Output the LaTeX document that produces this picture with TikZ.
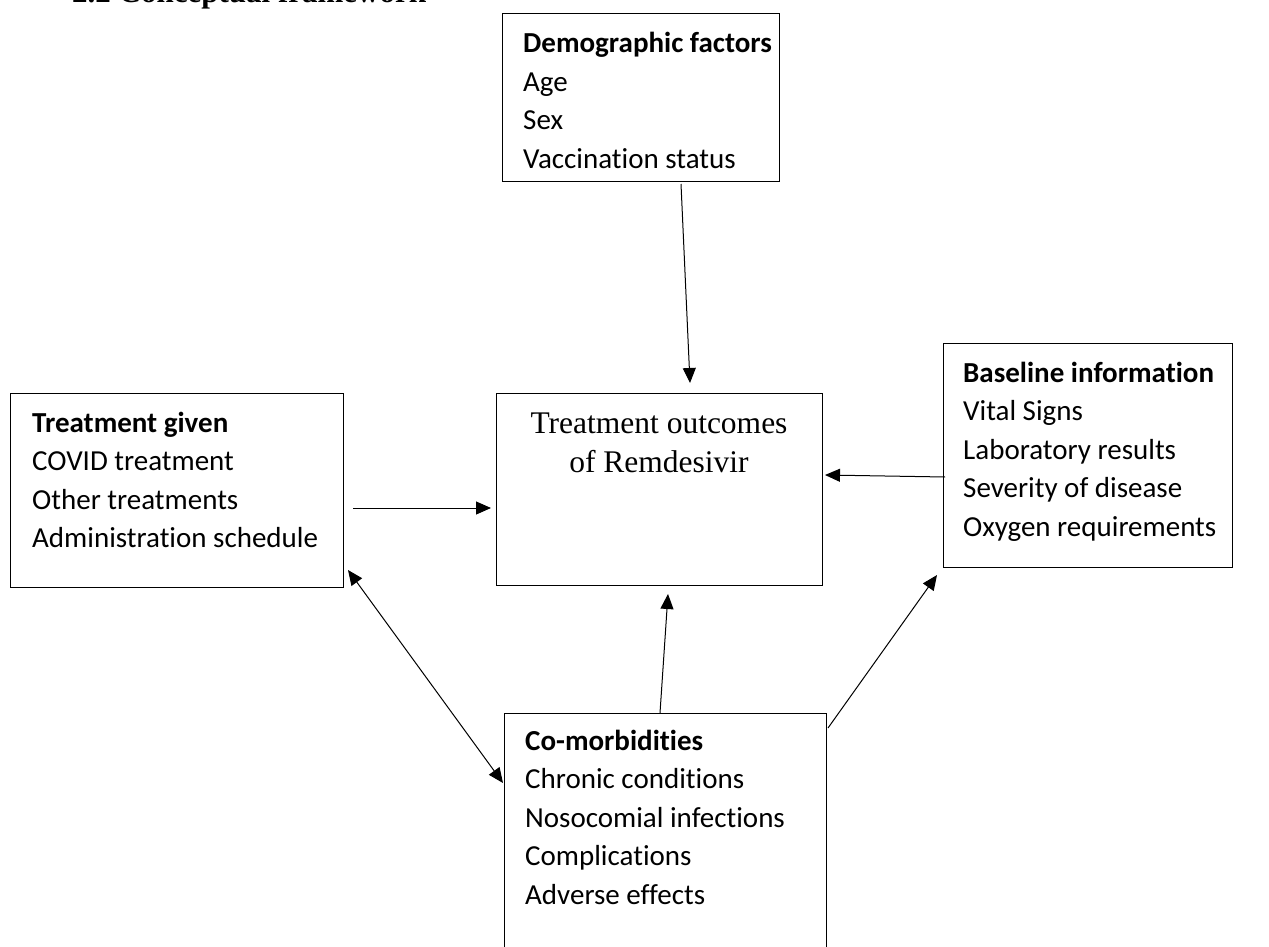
\documentclass[tikz,border=0pt]{standalone}
\usepackage{fontspec}
\setmainfont{Liberation Serif}
\newfontfamily\calfont[Ligatures={NoCommon}]{Carlito}
\usetikzlibrary{arrows.meta}
\begin{document}
\begin{tikzpicture}[x=1pt,y=-1pt,
  box/.style={draw, line width=1.1pt, inner sep=0pt, anchor=north west},
  txt/.style={anchor=base west, inner sep=0pt, font=\calfont\fontsize{29}{38.5}\selectfont},
  arr/.style={line width=1pt, -{Triangle[length=15pt,width=13pt]}},
  darr/.style={line width=1pt, {Triangle[length=15pt,width=13pt]}-{Triangle[length=15pt,width=13pt]}}]
\useasboundingbox (0,0) rectangle (1269,947);
\clip (0,0) rectangle (1269,947);
\fill[white] (0,0) rectangle (1269,947);

% title (cut at the top edge)
\node[anchor=base west, inner sep=0pt, font=\fontsize{31}{36}\selectfont\bfseries] (title) at (72,3) {2.2 Conceptual framework};

% boxes
\node[box, minimum width=277pt, minimum height=168pt] (demo) at (502,13) {};
\node[box, minimum width=333pt, minimum height=194pt] (treat) at (10,393) {};
\node[box, minimum width=326pt, minimum height=192pt] (outc) at (496,393) {};
\node[box, minimum width=289pt, minimum height=224pt] (base) at (943,343) {};
\node[box, minimum width=322pt, minimum height=260pt] (comor) at (504,713) {};

% texts
\node[txt] (demotxt) at (523,53) {\begin{tabular}[t]{@{}l@{}}\textbf{Demographic factors}\\ Age\\ Sex\\ Vaccination status\end{tabular}};
\node[txt] (treattxt) at (32,432) {\begin{tabular}[t]{@{}l@{}}\textbf{Treatment given}\\ COVID treatment\\ Other treatments\\ Administration schedule\end{tabular}};
\node[anchor=base, inner sep=0pt, font=\fontsize{31.5}{39}\selectfont] (outctxt) at (659,433) {\begin{tabular}[t]{@{}c@{}}Treatment outcomes\\ of Remdesivir\end{tabular}};
\node[txt] (basetxt) at (963,382) {\begin{tabular}[t]{@{}l@{}}\textbf{Baseline information}\\ Vital Signs\\ Laboratory results\\ Severity of disease\\ Oxygen requirements\end{tabular}};
\node[txt] (comortxt) at (525,750) {\begin{tabular}[t]{@{}l@{}}\textbf{Co-morbidities}\\ Chronic conditions\\ Nosocomial infections\\ Complications\\ Adverse effects\end{tabular}};

% connector end points
\coordinate (a1s) at (681,184);
\coordinate (a1e) at (690,383);
\coordinate (a2s) at (353,508);
\coordinate (a2e) at (491,508);
\coordinate (a3s) at (945,477);
\coordinate (a3e) at (825,475);
\coordinate (a4s) at (660,713);
\coordinate (a4e) at (668,594);
\coordinate (a5s) at (348,570);
\coordinate (a5e) at (503,783);
\coordinate (a6s) at (828,728);
\coordinate (a6e) at (937,575);

\draw[arr] (a1s) -- (a1e);
\draw[arr] (a2s) -- (a2e);
\draw[arr] (a3s) -- (a3e);
\draw[arr] (a4s) -- (a4e);
\draw[darr] (a5s) -- (a5e);
\draw[arr] (a6s) -- (a6e);
\end{tikzpicture}
\end{document}
